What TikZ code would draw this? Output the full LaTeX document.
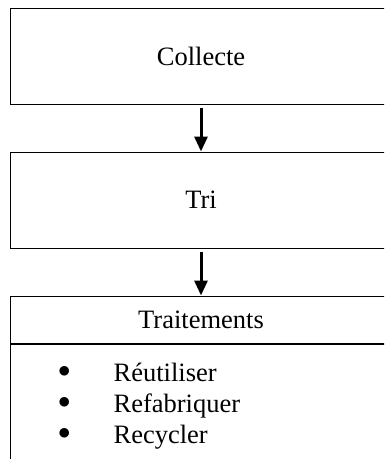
\documentclass[tikz,border=0pt]{standalone}
\usepackage{fontspec}
\setmainfont{Liberation Serif}
\usetikzlibrary{arrows.meta}

\newcommand{\puce}{\raisebox{3.2pt}{$\bullet$}}

\begin{document}
\begin{tikzpicture}
	[x=1pt, y=-1pt,
	 box/.style={rectangle, draw, line width=1pt, minimum width=382pt, inner sep=0pt, font=\fontsize{26.5}{31}\selectfont},
	 item/.style={anchor=base west, inner sep=0pt, font=\fontsize{26.5}{31}\selectfont},
	 fleche/.style={line width=3pt, -{Triangle[length=15pt, width=13pt]}, shorten <=3pt}]
	\useasboundingbox (0,0) rectangle (384,459);
	\clip (0,0) rectangle (384,459);
	\node[box, minimum height=96pt] (collecte) at (201,56) {Collecte};
	\node[box, minimum height=96pt] (tri) at (201,200) {Tri};
	\node[box, minimum height=47pt] (trait) at (201,319.5) {Traitements};
	\node[box, minimum height=137pt, anchor=north] (liste) at (trait.south) {};
	\node[item] (reut) at (58,381) {\puce\hspace{43pt}Réutiliser};
	\node[item] (refab) at (58,412) {\puce\hspace{43pt}Refabriquer};
	\node[item] (recyc) at (58,443) {\puce\hspace{43pt}Recycler};
	\draw[fleche] (collecte) -- (tri);
	\draw[fleche] (tri) -- (trait);
\end{tikzpicture}
\end{document}
